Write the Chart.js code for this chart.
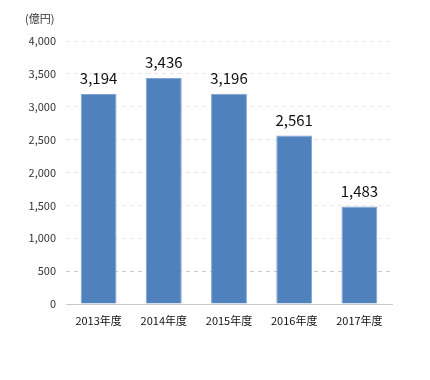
<!DOCTYPE html>
<html><head><meta charset="utf-8">
<script src="https://cdn.jsdelivr.net/npm/chart.js@4"></script>
<style>html,body{margin:0;padding:0;background:#fff}#wrap{width:430px;height:380px}</style>
</head><body><div id="wrap"><canvas id="c" width="430" height="380"></canvas></div>
<script>
const categories = ['2013年度','2014年度','2015年度','2016年度','2017年度'];
const values = [3194, 3436, 3196, 2561, 1483];
const unitLabel = '(億円)';
const FONT = '"Noto Sans CJK JP", "Noto Sans", sans-serif';

const labelPlugin = {
  id: 'labels',
  afterDatasetsDraw(chart) {
    const ctx = chart.ctx;
    const meta = chart.getDatasetMeta(0);
    ctx.save();
    ctx.font = '15px ' + FONT;
    ctx.fillStyle = '#111';
    ctx.textAlign = 'center';
    ctx.textBaseline = 'bottom';
    meta.data.forEach((bar, i) => {
      ctx.fillText(values[i].toLocaleString('en-US'), bar.x, bar.y - 8);
    });
    ctx.font = '11px ' + FONT;
    ctx.fillStyle = '#333';
    ctx.textAlign = 'left';
    ctx.textBaseline = 'middle';
    ctx.fillText(unitLabel, 25, 19);
    ctx.restore();
  }
};

new Chart(document.getElementById('c'), {
  type: 'bar',
  data: { labels: categories, datasets: [{ data: values, backgroundColor: '#4f81bd', borderColor: '#7fa3d2', borderWidth: 1, borderSkipped: 'bottom', categoryPercentage: 0.55, barPercentage: 1 }] },
  options: {
    responsive: false, animation: false,
    layout: { padding: { left: 0, right: 38, top: 41, bottom: 0 } },
    plugins: { legend: { display: false }, tooltip: { enabled: false } },
    scales: {
      x: {
        afterFit(s) { s.height = 76; },
        grid: { display: false, drawTicks: false },
        border: { display: true, color: '#c8c8c8', width: 1 },
        ticks: { padding: 10, color: '#111', font: { family: FONT, size: 11 } }
      },
      y: {
        min: 0, max: 4000,
        afterFit(s) { s.width = 66; },
        grid: { drawTicks: false, color: (c) => c.tick && c.tick.value === 500 ? '#c8c8c8' : '#e8e8e8' },
        border: { display: false, dash: [4, 4] },
        ticks: { stepSize: 500, padding: 10, color: '#333', font: { family: FONT, size: 11 },
          callback: (v) => Number(v).toLocaleString('en-US') }
      }
    }
  },
  plugins: [labelPlugin]
});
</script></body></html>
